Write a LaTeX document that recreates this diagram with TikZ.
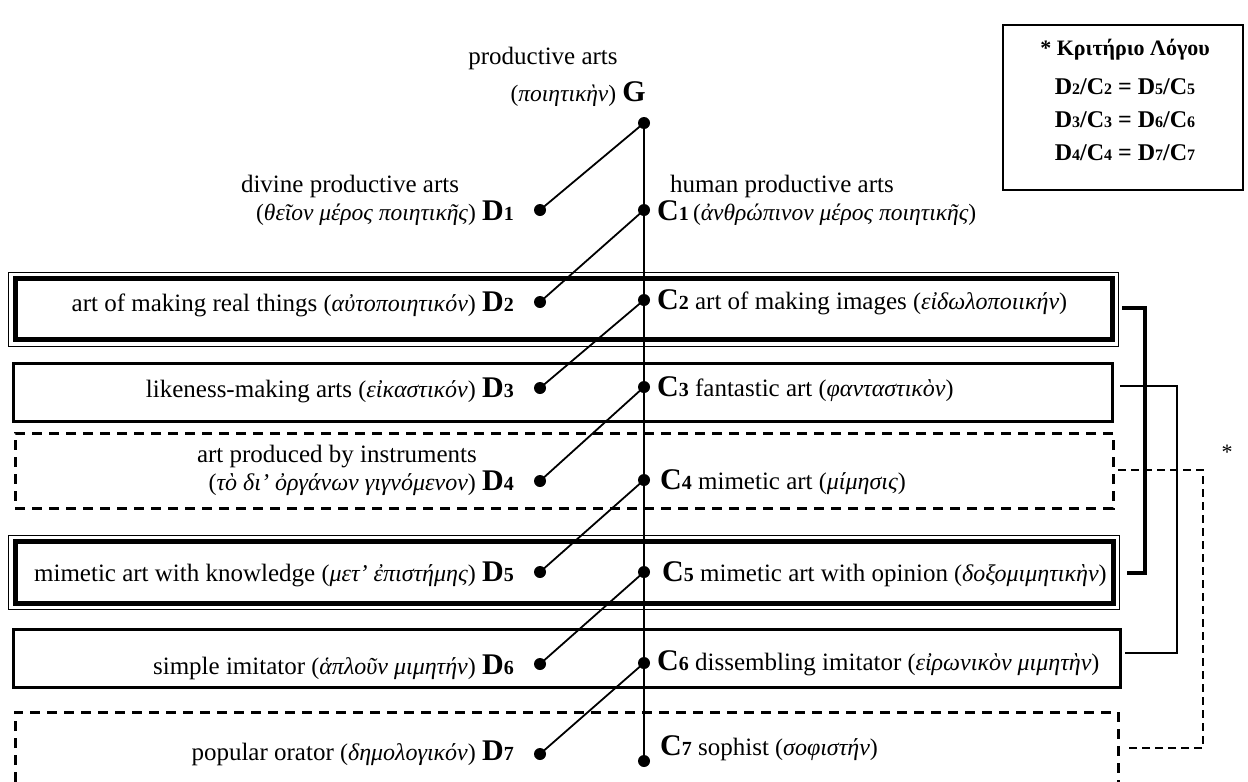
\documentclass[tikz,border=0pt]{standalone}
\usepackage{fontspec}
\setmainfont{Liberation Serif}
\newcommand{\mtxt}{\fontsize{25}{29}\selectfont}
\newcommand{\btxt}{\fontsize{25}{29}\selectfont}
\newcommand{\grtxt}[1]{{\fontsize{23.5}{27}\selectfont(\textit{#1})}}
\newcommand{\grbox}[1]{{\fontsize{24}{28}\selectfont(\textit{#1})}}
\newcommand{\lbl}[2]{{\fontsize{30}{32}\selectfont\bfseries #1}{\fontsize{20}{22}\selectfont\bfseries #2}}
\newcommand{\lgd}[2]{{\fontsize{24}{27}\selectfont\bfseries #1}{\fontsize{16}{18}\selectfont\bfseries #2}}
\tikzset{
  dot/.style={circle, fill=black, inner sep=0pt, minimum size=12pt},
  link/.style={line width=1.8pt},
  txt/.style={inner sep=0pt, font=\mtxt},
  rowtxt/.style={inner sep=0pt, font=\btxt},
  thinframe/.style={draw, line width=1pt, inner sep=0pt},
  thickframe/.style={draw, line width=5pt, inner sep=0pt},
  solidframe/.style={draw, line width=3pt, inner sep=0pt},
  dashframe/.style={draw, line width=3pt, dash pattern=on 10pt off 7pt},
  brkthick/.style={line width=4.5pt},
  brkmid/.style={line width=2pt},
  brkdash/.style={line width=1.3pt, dash pattern=on 8pt off 5pt},
}
\begin{document}
\begin{tikzpicture}[x=1pt, y=-1pt]
\useasboundingbox (0,0) rectangle (1248,782);

% frames
\node[thinframe, minimum width=1110pt, minimum height=74pt] (B2o) at (563,309) {};
\node[thickframe, minimum width=1097pt, minimum height=61pt] (B2) at (563.5,309) {};
\node[solidframe, minimum width=1099pt, minimum height=58pt] (B3) at (562.5,392) {};
\node[dashframe, inner sep=0pt, minimum width=1098pt, minimum height=75pt] (B4) at (564,470.5) {};
\node[thinframe, minimum width=1111pt, minimum height=74pt] (B5o) at (563.5,572) {};
\node[thickframe, minimum width=1098pt, minimum height=62pt] (B5) at (564,572) {};
\node[solidframe, minimum width=1107pt, minimum height=58pt] (B6) at (566.5,658) {};
\draw[dashframe] (15,782) -- (15,712) -- (1118,712) -- (1118,782);

% bracket end points
\coordinate (b2r) at (1122,308);
\coordinate (b5r) at (1127,573);
\coordinate (b3r) at (1120,386);
\coordinate (b6r) at (1125,653);
\coordinate (b4r) at (1118,470);
\coordinate (b7r) at (1127,748);
\draw[brkthick] (b2r) -- (1145,308) |- (b5r);
\draw[brkmid] (b3r) -- (1177,386) |- (b6r);
\draw[brkdash] (b4r) -- (1203,470) |- (b7r);
\node[inner sep=0pt, font=\fontsize{22}{24}\selectfont] (star) at (1227,452) {*};

% dots
\node[dot] (G) at (644,123) {};
\node[dot] (D1) at (540,210) {};
\node[dot] (C1) at (644,210) {};
\node[dot] (D2) at (540,302) {};
\node[dot] (C2) at (644,300) {};
\node[dot] (D3) at (540,388) {};
\node[dot] (C3) at (644,387) {};
\node[dot] (D4) at (540,481) {};
\node[dot] (C4) at (644,480) {};
\node[dot] (D5) at (540,572) {};
\node[dot] (C5) at (644,572) {};
\node[dot] (D6) at (540,664) {};
\node[dot] (C6) at (644,663) {};
\node[dot] (D7) at (540,754) {};
\node[dot] (C7) at (644,761) {};

% connectors
\draw[link] (G.center) -- (C7.center);
\draw[link] (G.center) -- (D1.center);
\draw[link] (C1.center) -- (D2.center);
\draw[link] (C2.center) -- (D3.center);
\draw[link] (C3.center) -- (D4.center);
\draw[link] (C4.center) -- (D5.center);
\draw[link] (C5.center) -- (D6.center);
\draw[link] (C6.center) -- (D7.center);

% top labels
\node[txt, anchor=base] (tG1) at (543,64) {productive arts};
\node[txt, anchor=base east] (tG2) at (646,101) {\grtxt{ποιητικὴν} \lbl{G}{}};
\node[txt, anchor=base] (tD1a) at (350,192) {divine productive arts};
\node[txt, anchor=base east] (tD1) at (514,220) {\grtxt{θεῖον μέρος ποιητικῆς} \lbl{D}{1}};
\node[txt, anchor=base] (tC1a) at (782,192) {human productive arts};
\node[txt, anchor=base west] (tC1) at (657,220) {\lbl{C}{1}\,\grtxt{ἀνθρώπινον μέρος ποιητικῆς}};

% left labels
\node[rowtxt, anchor=base east] (tD2) at (514,311) {art of making real things \grbox{αὐτοποιητικόν} \lbl{D}{2}};
\node[rowtxt, anchor=base east] (tD3) at (514,397) {likeness-making arts \grbox{εἰκαστικόν} \lbl{D}{3}};
\node[rowtxt, anchor=base east] (tD4a) at (477,462) {art produced by instruments};
\node[rowtxt, anchor=base east] (tD4) at (514,490) {\grbox{τὸ δι' ὀργάνων γιγνόμενον} \lbl{D}{4}};
\node[rowtxt, anchor=base east] (tD5) at (514,581) {mimetic art with knowledge \grbox{μετ' ἐπιστήμης} \lbl{D}{5}};
\node[rowtxt, anchor=base east] (tD6) at (514,674) {simple imitator \grbox{ἁπλοῦν μιμητήν} \lbl{D}{6}};
\node[rowtxt, anchor=base east] (tD7) at (514,760) {popular orator \grbox{δημολογικόν} \lbl{D}{7}};

% right labels
\node[rowtxt, anchor=base west] (tC2) at (657,309) {\lbl{C}{2} art of making images \grbox{εἰδωλοποιικήν}};
\node[rowtxt, anchor=base west] (tC3) at (657,396) {\lbl{C}{3} fantastic art \grbox{φανταστικὸν}};
\node[rowtxt, anchor=base west] (tC4) at (660,489) {\lbl{C}{4} mimetic art \grbox{μίμησις}};
\node[rowtxt, anchor=base west] (tC5) at (662,581) {\lbl{C}{5} mimetic art with opinion \grbox{δοξομιμητικὴν}};
\node[rowtxt, anchor=base west] (tC6) at (657,670) {\lbl{C}{6} dissembling imitator \grbox{εἰρωνικὸν μιμητὴν}};
\node[rowtxt, anchor=base west] (tC7) at (660,755) {\lbl{C}{7} sophist \grbox{σοφιστήν}};

% legend
\node[draw, line width=1.5pt, inner sep=0pt, minimum width=240pt, minimum height=165pt] (legend) at (1123,107.5) {};
\node[inner sep=0pt, anchor=base, font=\fontsize{22}{24}\selectfont\bfseries] (lg0) at (1125,55) {* Κριτήριο Λόγου};
\node[inner sep=0pt, anchor=base] (lg1) at (1125,94) {\lgd{D}{2}\lgd{/C}{2}\lgd{ = D}{5}\lgd{/C}{5}};
\node[inner sep=0pt, anchor=base] (lg2) at (1125,127) {\lgd{D}{3}\lgd{/C}{3}\lgd{ = D}{6}\lgd{/C}{6}};
\node[inner sep=0pt, anchor=base] (lg3) at (1125,160) {\lgd{D}{4}\lgd{/C}{4}\lgd{ = D}{7}\lgd{/C}{7}};
\end{tikzpicture}
\end{document}
